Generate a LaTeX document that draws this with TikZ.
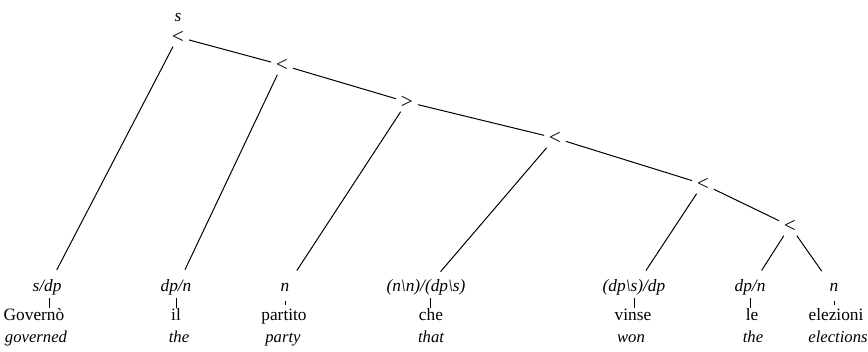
\documentclass[tikz,border=0pt]{standalone}
\usepackage{fontspec}
\setmainfont{Liberation Serif}
\begin{document}
\begin{tikzpicture}[x=0.75pt,y=-0.75pt,
  every node/.style={font=\fontsize{13}{15}\selectfont},
  op/.style={inner sep=2.5pt,font=\fontsize{16}{18}\selectfont},
  root/.style={inner sep=1pt,font=\fontsize{13}{15}\selectfont\itshape},
  cat/.style={anchor=base,inner sep=0pt,text height=0.75em,text depth=0.25em,font=\fontsize{13}{15}\selectfont\itshape},
  word/.style={anchor=base,inner sep=0pt,text height=0.75em,text depth=0.2em},
  gloss/.style={anchor=base,inner sep=0pt,font=\fontsize{12.5}{15}\selectfont\itshape},
  edge/.style={draw,line width=0.75pt,shorten >=10pt},
  chain/.style={draw,line width=0.75pt,shorten <=1pt,shorten >=1pt},
  bar/.style={draw,line width=0.65pt,shorten <=1.5pt,shorten >=2pt},
  shortbar/.style={draw,line width=0.65pt,shorten <=4pt,shorten >=4pt}]
\useasboundingbox (0,0) rectangle (868,352);
% internal nodes
\node[root] (s) at (178,18) {s};
\node[op] (r1) at (178,37) {<};
\node[op] (r2) at (282,65) {<};
\node[op] (r3) at (407,102) {>};
\node[op] (r4) at (555,138) {<};
\node[op] (r5) at (703,184) {<};
\node[op] (r6) at (790,226) {<};
% categories
\node[cat] (c1) at (47,292) {s/dp};
\node[cat] (c2) at (176,292) {dp/n};
\node[cat] (c3) at (285,292) {n};
\node[cat] (c4) at (426,292) {(n\textbackslash n)/(dp\textbackslash s)};
\node[cat] (c5) at (634,292) {(dp\textbackslash s)/dp};
\node[cat] (c6) at (750,292) {dp/n};
\node[cat] (c7) at (834,292) {n};
% words
\node[word] (w1) at (34,321) {Governò};
\node[word] (w2) at (176,321) {il};
\node[word] (w3) at (284,321) {partito};
\node[word] (w4) at (431,321) {che};
\node[word] (w5) at (633,321) {vinse};
\node[word] (w6) at (752,321) {le};
\node[word] (w7) at (836,321) {elezioni};
% glosses
\node[gloss] (g1) at (36,343) {governed};
\node[gloss] (g2) at (179,343) {the};
\node[gloss] (g3) at (283,343) {party};
\node[gloss] (g4) at (431,343) {that};
\node[gloss] (g5) at (631,343) {won};
\node[gloss] (g6) at (753,343) {the};
\node[gloss] (g7) at (838,343) {elections};
% spine
\draw[chain] (r1) -- (r2);
\draw[chain] (r2) -- (r3);
\draw[chain] (r3) -- (r4);
\draw[chain] (r4) -- (r5);
\draw[chain] (r5) -- (r6);
% branches to leaves
\draw[edge] (r1) -- (c1);
\draw[edge] (r2) -- (c2);
\draw[edge] (r3) -- (c3);
\draw[edge] (r4) -- (c4);
\draw[edge] (r5) -- (c5);
\draw[edge] (r6) -- (c6);
\draw[edge] (r6) -- (c7);
% bars between category and word
\draw[bar] ([xshift=2pt]c1.south) -- ([xshift=2pt]c1.south |- w1.north);
\draw[bar] (c2.south) -- (c2.south |- w2.north);
\draw[shortbar] (c3.south) -- (c3.south |- w3.north);
\draw[bar] ([xshift=3pt]c4.south) -- ([xshift=3pt]c4.south |- w4.north);
\draw[bar] (c5.south) -- (c5.south |- w5.north);
\draw[bar] (c6.south) -- (c6.south |- w6.north);
\draw[shortbar] (c7.south) -- (c7.south |- w7.north);
\end{tikzpicture}
\end{document}
